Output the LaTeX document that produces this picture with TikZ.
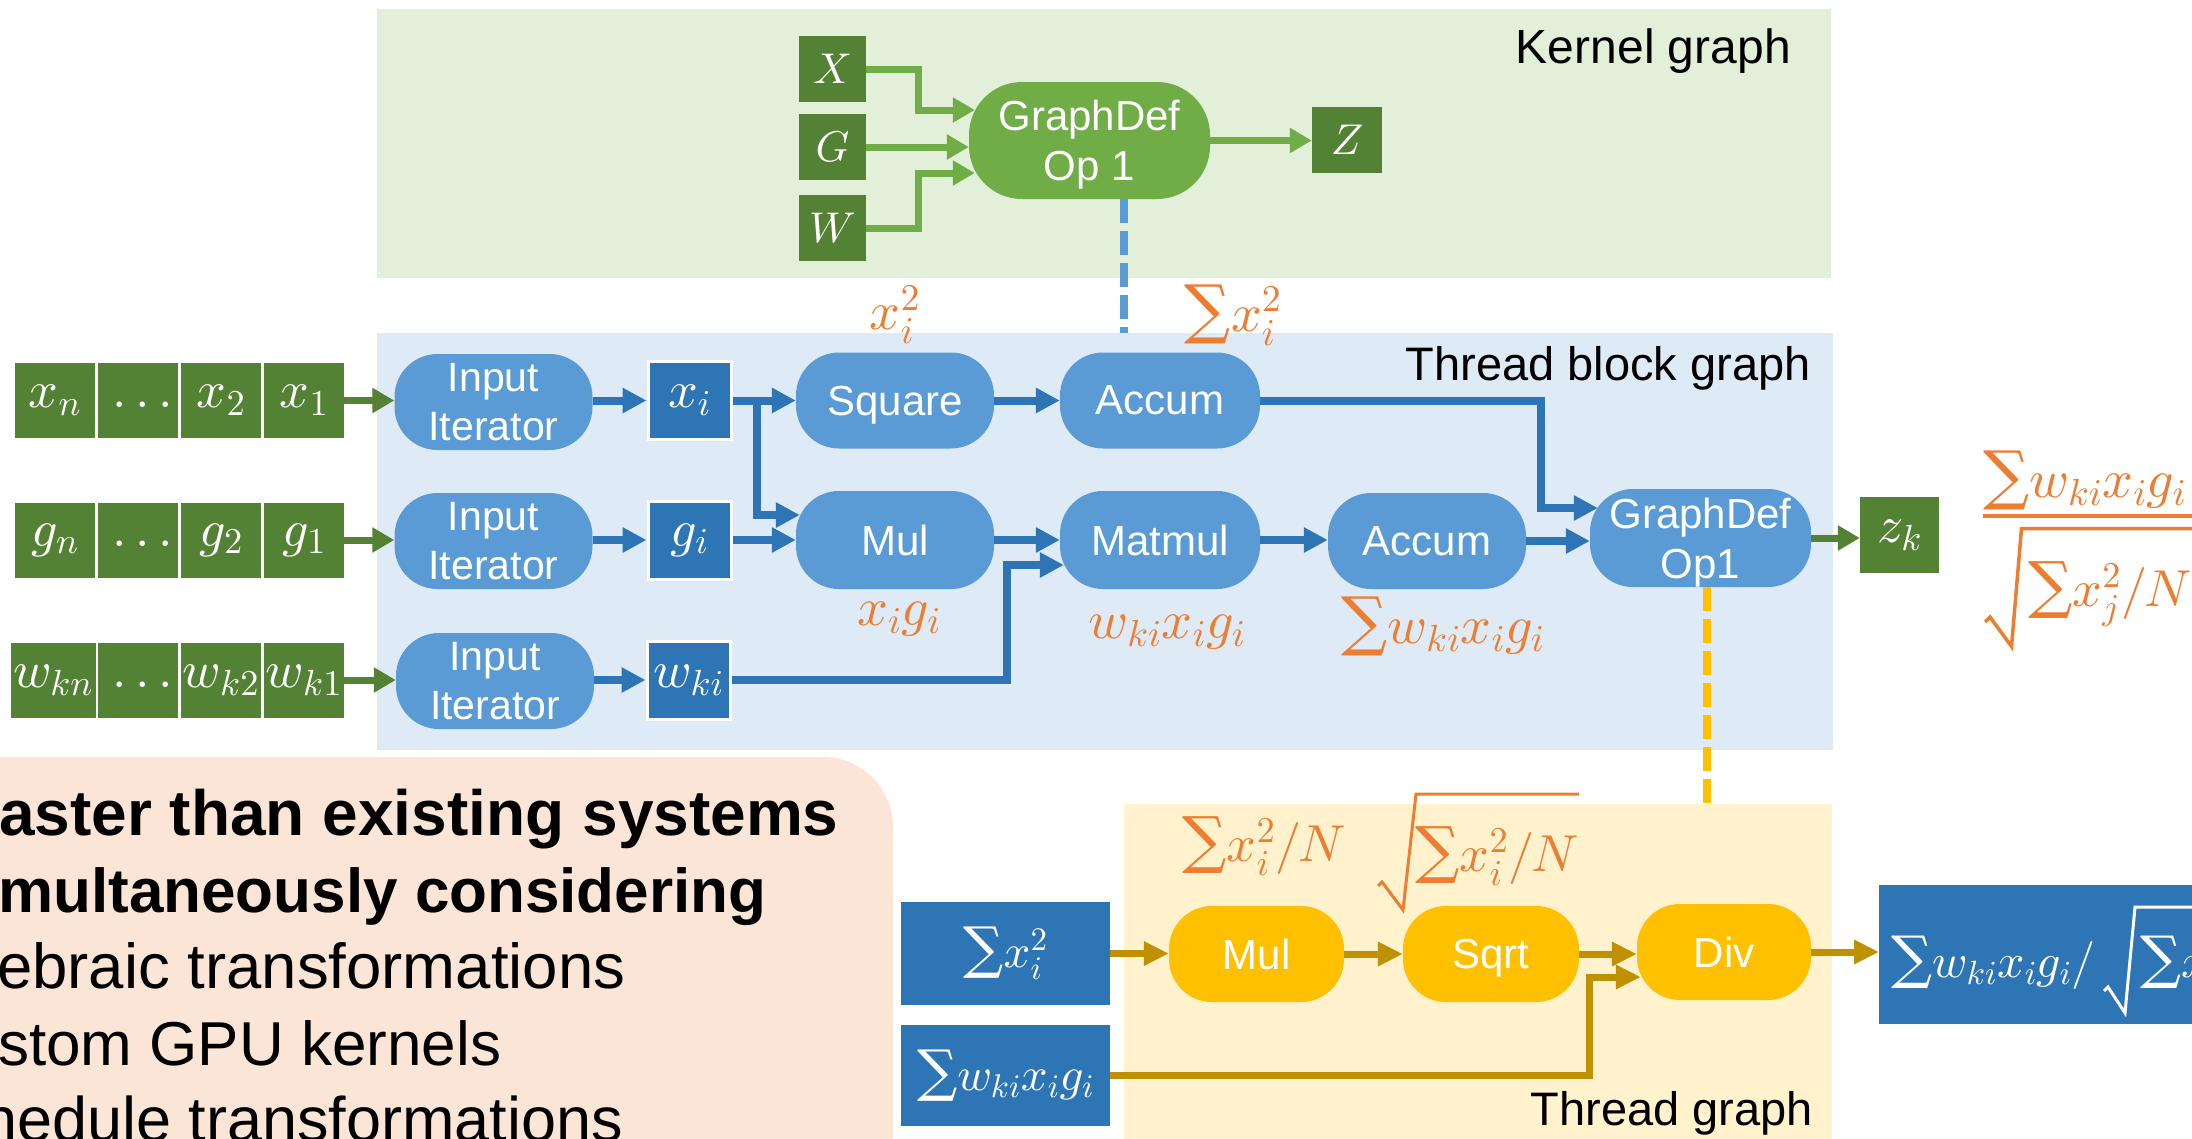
\documentclass[tikz,border=0pt]{standalone}
\usepackage{amsmath}
\usepackage[no-math]{fontspec}
\setmainfont{Liberation Sans}
\newfontfamily\opfont{DejaVu Serif}[Scale=1.2]
\usetikzlibrary{arrows.meta}
% scalable Computer Modern math fonts for the large formula sizes
\DeclareFontShape{OT1}{cmr}{m}{n}{<->cmr10}{}
\DeclareFontShape{OML}{cmm}{m}{it}{<->cmmi10}{}
\DeclareFontShape{OMS}{cmsy}{m}{n}{<->cmsy10}{}
\DeclareFontShape{OMX}{cmex}{m}{n}{<->cmex10}{}
% compact summation sign set tight against its operand
\newcommand\mysum{\mathord{\text{\opfont ∑}}}

\definecolor{kernelbg}{HTML}{E2F0D9}
\definecolor{blockbg}{HTML}{DEEBF7}
\definecolor{threadbg}{HTML}{FFF2CC}
\definecolor{notebg}{HTML}{FBE5D6}
\definecolor{opblue}{HTML}{5B9BD5}
\definecolor{deepblue}{HTML}{2E75B6}
\definecolor{deepgreen}{HTML}{548235}
\definecolor{leafgreen}{HTML}{70AD47}
\definecolor{exprorange}{HTML}{ED7D31}
\definecolor{opyellow}{HTML}{FFC000}
\definecolor{darkgold}{HTML}{BF9000}

\tikzset{
  opnode/.style={fill=opblue, text=white, align=center, inner sep=0pt,
    rounded corners=43pt, minimum width=198pt, minimum height=96pt,
    text depth=0pt, font=\fontsize{42}{50}\selectfont},
  yopnode/.style={opnode, fill=opyellow, minimum width=175pt},
  cell/.style={fill=deepgreen, text=white, inner sep=0pt,
    minimum width=80pt, minimum height=75pt, font=\fontsize{52}{62}\selectfont},
  kbox/.style={fill=deepgreen, text=white, inner sep=0pt,
    minimum width=67pt, minimum height=66pt, font=\fontsize{43}{52}\selectfont},
  vbox/.style={fill=deepblue, draw=white, line width=3pt, text=white, inner sep=0pt,
    minimum width=83pt, minimum height=78pt, font=\fontsize{52}{62}\selectfont},
  sbox/.style={fill=deepblue, text=white, inner sep=0pt,
    minimum width=209pt, minimum height=102pt, font=\fontsize{47}{56}\selectfont},
  title/.style={inner sep=0pt, anchor=base east, font=\fontsize{47}{56}\selectfont},
  notetext/.style={inner sep=0pt, anchor=base west},
  expr/.style={inner sep=0pt, text=exprorange, font=\fontsize{54}{64}\selectfont},
  karrow/.style={draw=leafgreen, line width=7pt, -{Triangle[length=22pt,width=24pt]}},
  garrow/.style={draw=deepgreen, line width=7pt, -{Triangle[length=22pt,width=24pt]}},
  barrow/.style={draw=deepblue, line width=8pt, -{Triangle[length=24pt,width=24pt]}},
  yarrow/.style={draw=darkgold, line width=7pt, -{Triangle[length=25pt,width=23pt]}},
  mapline/.style={line width=8pt, dash pattern=on 24pt off 8pt},
}

\begin{document}
\begin{tikzpicture}[x=1pt,y=-1pt]
\useasboundingbox (0,0) rectangle (2192,1138);
\clip (0,0) rectangle (2192,1138);
\fill[white] (0,0) rectangle (2192,1138);

% ---------- region backgrounds ----------
\fill[kernelbg] (377,9) rectangle (1831,278);
\fill[blockbg] (377,333) rectangle (1833,750);
\fill[threadbg] (1124,804) rectangle (1832,1160);
\fill[notebg, rounded corners=70pt] (-120,757) rectangle (893,1300);

\node[title, font=\fontsize{48}{56}\selectfont] (ktitle) at (1791,63) {Kernel graph};
\node[title] (btitle) at (1811,380) {Thread block graph};
\node[title] (ttitle) at (1813,1125) {Thread graph};

% ---------- summary text ----------
\node[notetext, font=\bfseries\fontsize{64}{77}\selectfont] (n1) at (-1,835) {aster than existing systems};
\node[notetext, font=\bfseries\fontsize{62}{77}\selectfont] (n2) at (-2,912) {multaneously considering};
\node[notetext, font=\fontsize{63.5}{77}\selectfont] (n3) at (-3,988) {ebraic transformations};
\node[notetext, font=\fontsize{62}{77}\selectfont] (n4) at (-2,1065) {stom GPU kernels};
\node[notetext, font=\fontsize{63}{77}\selectfont] (n5) at (-18,1141) {hedule transformations};

% ---------- kernel graph ----------
\node[kbox] (X) at (832.5,69) {$X$};
\node[kbox] (G) at (832.5,147) {$G$};
\node[kbox] (W) at (832.5,228) {$W$};
\node[opnode, fill=leafgreen, minimum width=241pt, minimum height=117pt,
      rounded corners=53pt] (gdk) at (1089.5,140.5) {GraphDef\\Op 1};
\node[kbox, minimum width=70pt] (Z) at (1347,140) {$Z$};

\draw[karrow] (X.east) -- ++(52,0) |- ([xshift=6pt,yshift=30.5pt]gdk.west);
\draw[karrow] (G.east) -- (G.east -| gdk.west);
\draw[karrow] (W.east) -- ++(52,0) |- ([xshift=6pt,yshift=-32.5pt]gdk.west);
\draw[karrow] (gdk.east) -- (gdk.east -| Z.west);

\coordinate (blocktop) at (1124,333);
\draw[mapline, draw=opblue] ([xshift=34.5pt]gdk.south) -- (blocktop);

% ---------- thread block graph ----------
% input arrays
\node[cell] (xn) at (55,400.5) {$x_n$};
\node[cell] (xd) at (138,400.5) {$\vphantom{x_n}\ldots$};
\node[cell] (x2) at (221,400.5) {$x_2$};
\node[cell] (x1) at (304,400.5) {$x_1$};
\node[cell] (gn) at (55,540) {$g_n$};
\node[cell] (gd) at (138,540) {$\vphantom{g_n}\ldots$};
\node[cell] (g2) at (221,540) {$g_2$};
\node[cell] (g1) at (304,540) {$g_1$};
\node[cell, minimum width=85pt] (wn) at (53,680) {$w_{kn}$};
\node[cell] (wd) at (138,680) {$\vphantom{w_{kn}}\ldots$};
\node[cell] (w2) at (221,680) {$w_{k2}$};
\node[cell] (w1) at (304,680) {$w_{k1}$};

% iterators and per-thread values
\node[opnode, font=\fontsize{41}{49}\selectfont] (it1) at (493.5,402) {Input\\Iterator};
\node[opnode, font=\fontsize{41}{49}\selectfont] (it2) at (493.5,541) {Input\\Iterator};
\node[opnode, font=\fontsize{41}{49}\selectfont] (it3) at (495,681) {Input\\Iterator};
\node[vbox] (xi) at (689.5,400.5) {$x_i$};
\node[vbox] (gi) at (689.5,540) {$g_i$};
\node[vbox] (wki) at (688.5,680) {$w_{ki}$};

\draw[garrow] (x1.east) -- (x1.east -| it1.west);
\draw[garrow] (g1.east) -- (g1.east -| it2.west);
\draw[garrow] (w1.east) -- (w1.east -| it3.west);
\draw[barrow] (it1.east |- xi.west) -- (xi.west);
\draw[barrow] (it2.east |- gi.west) -- (gi.west);
\draw[barrow] (it3.east |- wki.west) -- (wki.west);

% operators
\node[opnode] (sq) at (895,400.5) {Square};
\node[opnode, minimum width=200pt] (acc1) at (1160,400.5) {Accum};
\node[opnode, minimum height=98pt] (mul) at (895,540) {Mul};
\node[opnode, minimum width=200pt, minimum height=98pt] (mm) at (1160,540) {Matmul};
\node[opnode] (acc2) at (1427,541) {Accum};
\node[opnode, minimum width=221pt, minimum height=98pt] (gdb) at (1700.5,538) {GraphDef\\Op1};
\node[kbox, minimum width=79pt, minimum height=76pt, font=\fontsize{52}{62}\selectfont] (zk) at (1899.5,535) {$z_k$};

\draw[barrow] (xi.east) -- (sq.west);
\draw[barrow] ([xshift=24pt]xi.east) |- ([xshift=4pt,yshift=25pt]mul.west);
\draw[barrow] (gi.east) -- (mul.west);
\draw[barrow] (sq.east) -- (acc1.west);
\draw[barrow] (mul.east) -- (mm.west);
\draw[barrow] (wki.east) -- ++(275,0) |- ([xshift=4pt,yshift=-25pt]mm.west);
\draw[barrow] (mm.east) -- (mm.east -| acc2.west);
\draw[barrow] (acc1.east) -- ++(281,0) |- ([xshift=8pt,yshift=30pt]gdb.west);
\draw[barrow] (acc2.east) -- (acc2.east -| gdb.west);
\draw[garrow] (gdb.east) -- (gdb.east -| zk.west);

% intermediate expressions
\node[expr] (e1) at (895,315) {$x_i^2$};
\node[expr] (e2) at (1233,315) {$\mysum x_i^2$};
\node[expr] (e3) at (899,619) {$x_ig_i$};
\node[expr] (e4) at (1167,632) {$w_{ki}x_ig_i$};
\node[expr, font=\fontsize{54}{64}\selectfont] (e5) at (1443,626) {$\mysum w_{ki}x_ig_i$};

% final expression of the block
\node[expr, anchor=base west, font=\fontsize{54}{64}\selectfont] (fnum) at (1983,497) {$\mysum w_{ki}x_ig_i$};
\draw[exprorange, line width=4pt] (1983,516) -- (2200,516);
\draw[exprorange, line width=3.5pt, line join=miter] (1985,622) -- (1990,617) -- (2011.5,646.5) -- (2021.5,528.5) -- (2200,528.5);
\node[expr, anchor=base west, font=\fontsize{52}{62}\selectfont] (fden) at (2028,606) {$\mysum x_j^2/N$};

\coordinate (threadtop) at (1707,804);
\draw[mapline, draw=opyellow] ([xshift=6.5pt]gdb.south) -- (threadtop);

% ---------- thread graph ----------
\node[sbox, minimum height=103pt] (sx) at (1005.5,953.5) {$\mysum x_i^2$};
\node[sbox, minimum height=101pt] (swxg) at (1005.5,1075.5) {$\mysum w_{ki}x_ig_i$};
\node[yopnode] (ymul) at (1256.5,954) {Mul};
\node[yopnode, minimum width=176pt] (ysqrt) at (1491,954) {Sqrt};
\node[yopnode, minimum width=174pt] (ydiv) at (1724,952) {Div};
\node[fill=deepblue, inner sep=0pt, minimum width=420pt, minimum height=139pt,
      anchor=west] (out) at (1879,954.5) {};
\node[anchor=base west, inner sep=0pt, text=white, font=\fontsize{48}{58}\selectfont]
      (outa) at (1891,977) {$\mysum w_{ki}x_ig_i/$};
\draw[white, line width=3pt, line join=miter] (2104,991) -- (2108,987) -- (2125,1013) -- (2135,907) -- (2200,907);
\node[anchor=base west, inner sep=0pt, text=white, font=\fontsize{48}{58}\selectfont]
      (outb) at (2140,977) {$\mysum x$};

\draw[yarrow] (sx.east) -- (sx.east -| ymul.west);
\draw[yarrow] (ymul.east) -- (ysqrt.west);
\draw[yarrow] (ysqrt.east) -- (ysqrt.east -| ydiv.west);
\draw[yarrow] (swxg.east) -- ++(479,0) |- ([xshift=4pt,yshift=-25pt]ydiv.west);
\draw[yarrow] (ydiv.east) -- (ydiv.east -| out.west);

\node[expr, font=\fontsize{52}{62}\selectfont] (e6) at (1264,846) {$\mysum x_i^2/N$};
\draw[exprorange, line width=3pt, line join=miter] (1378,886) -- (1382,882) -- (1403,910) -- (1416,794) -- (1579,794);
\node[expr, font=\fontsize{52}{62}\selectfont] (e7) at (1497,856) {$\mysum x_i^2/N$};
\end{tikzpicture}
\end{document}
